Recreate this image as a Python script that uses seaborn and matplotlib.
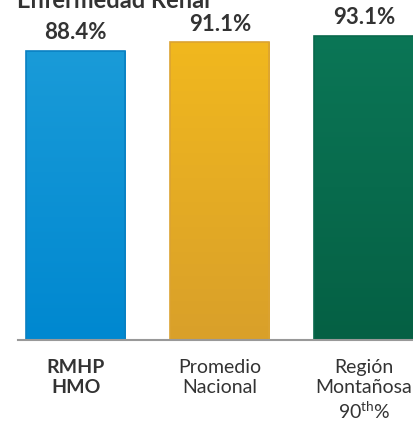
import matplotlib.pyplot as plt
import numpy as np
import pandas as pd
import seaborn as sns
from matplotlib.colors import LinearSegmentedColormap

categories = ['RMHP\nHMO', 'Promedio\nNacional', 'Región\nMontañosa\n90$^{\\rm th}$%']
values = [88.4, 91.1, 93.1]
value_labels = ['88.4%', '91.1%', '93.1%']
top_colors = ['#1a9bd8', '#f1b81e', '#0b7656']
bottom_colors = ['#0088d0', '#d9a02a', '#056044']
edge_colors = ['#0a80c2', '#dba332', '#08684c']

sns.set_style('white')
plt.rcParams['font.family'] = ['Lato', 'DejaVu Sans']
plt.rcParams['mathtext.fontset'] = 'custom'
plt.rcParams['mathtext.rm'] = 'Lato'

data = pd.DataFrame({'grupo': categories, 'valor': values})

fig = plt.figure(figsize=(4.14, 4.23), dpi=100)
ax = fig.add_axes([18 / 414, (423 - 339.5) / 423, 1 - 18 / 414, 339.5 / 423])

sns.barplot(data=data, x='grupo', y='valor', hue='grupo', palette=bottom_colors,
            width=0.6875, legend=False, ax=ax, saturation=1)

# gradient fill, clipped to each bar
for patch, top, bottom, edge in zip(ax.patches, top_colors, bottom_colors, edge_colors):
    x0, y0 = patch.get_x(), patch.get_y()
    w, h = patch.get_width(), patch.get_height()
    cmap = LinearSegmentedColormap.from_list('g', [bottom, top])
    grad = np.linspace(0, 1, 256).reshape(-1, 1)
    im = ax.imshow(grad, cmap=cmap, aspect='auto', origin='lower',
                   extent=[x0, x0 + w, y0, y0 + h], zorder=patch.get_zorder())
    im.set_clip_path(patch)
    patch.set_edgecolor(edge)
    patch.set_linewidth(1.2)
    patch.set_zorder(patch.get_zorder() + 0.1)
    patch.set_facecolor('none')

ax.set_xlim(-0.40, 2.347)
ax.set_ylim(0, 104.1)

for i, (v, lab) in enumerate(zip(values, value_labels)):
    ax.annotate(lab, (i, v), xytext=(0, 8.5), textcoords='offset points',
                ha='center', va='baseline', fontsize=16, fontweight='bold',
                color='#333333')

ax.set_xlabel('')
ax.set_ylabel('')
ax.set_yticks([])
ax.set_xticks(range(len(categories)))
ax.set_xticklabels(categories, fontsize=14, color='#333333', linespacing=1.22)
ax.get_xticklabels()[0].set_fontweight('bold')
ax.tick_params(axis='x', length=0, pad=14)

sns.despine(ax=ax, left=True)
ax.spines['bottom'].set_color('#999999')
ax.spines['bottom'].set_linewidth(1.5)

fig.text(17 / 414, 1 - 8 / 423, 'Enfermedad Renal', fontsize=17,
         fontweight='bold', color='#333333', va='baseline', ha='left')

fig.savefig('out.png', dpi=100)
